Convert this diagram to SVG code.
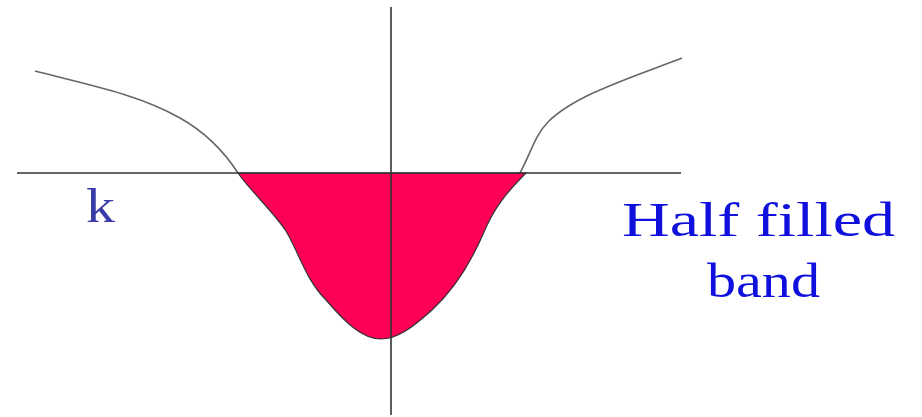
<svg xmlns="http://www.w3.org/2000/svg" width="922" height="417" viewBox="0 0 922 417">
<style>
.curve{fill:none;stroke:#666;stroke-width:1.6}
.axis{stroke:#333;stroke-width:1.6}
.lbl{font-family:"Liberation Serif","Times New Roman",serif;font-size:48px}
</style>
<rect width="922" height="417" fill="#fff"/>
<g id="band">
<path d="M238,173 L526,173 C507,192 494,208 484,232 C472,260 457,287 432,310 C412,328 397,339 381,339 C362,339 345,322 326,300 C306,280 300,255 286,231 C272,210 252,193 238,173 Z" fill="#ff0058" stroke="#333" stroke-width="1.2"/>
</g>
<g id="curves">
<path class="curve" d="M35,71 C90,85 140,95 180,118 C205,132 225,153 238,173"/>
<path class="curve" d="M520,173 C530,155 535,135 548,122 C575,95 630,78 682,58"/>
</g>
<g id="axes">
<line class="axis" x1="17" y1="173" x2="681" y2="173"/>
<line class="axis" x1="391" y1="7" x2="391" y2="415"/>
</g>
<g id="label-k">
<text class="lbl" x="86" y="222" fill="#3a3aa8" textLength="29" lengthAdjust="spacingAndGlyphs">k</text>
</g>
<g id="label-band">
<text class="lbl" x="622" y="236" fill="#1010dd" textLength="273" lengthAdjust="spacingAndGlyphs">Half filled</text>
<text class="lbl" x="707" y="297" fill="#1010dd" textLength="113" lengthAdjust="spacingAndGlyphs">band</text>
</g>
</svg>
